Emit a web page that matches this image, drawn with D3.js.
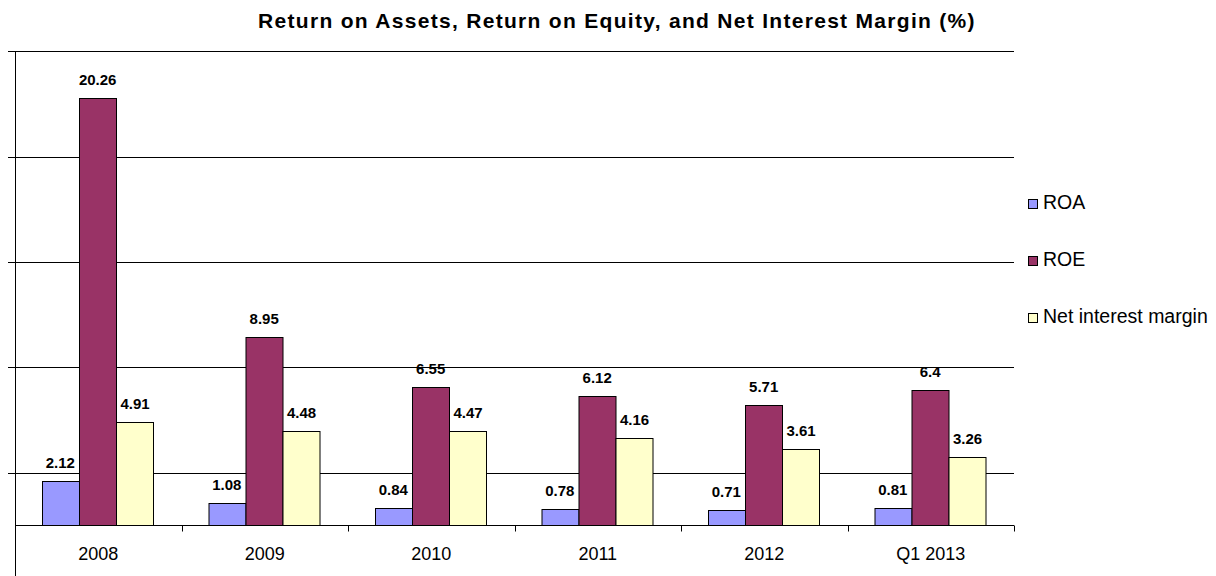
<!DOCTYPE html>
<html>
<head>
<meta charset="utf-8">
<script src="https://cdn.jsdelivr.net/npm/d3@7"></script>
<style>
  body { margin: 0; background: #fff; }
  svg { display: block; font-family: Arial, "Liberation Sans", sans-serif; }
</style>
</head>
<body>
<div id="chart"></div>
<script>
var categories = ["2008", "2009", "2010", "2011", "2012", "Q1 2013"];
var seriesNames = ["ROA", "ROE", "Net interest margin"];
var roa = [2.12, 1.08, 0.84, 0.78, 0.71, 0.81];
var roe = [20.26, 8.95, 6.55, 6.12, 5.71, 6.4];
var nim = [4.91, 4.48, 4.47, 4.16, 3.61, 3.26];
var gridValues = [2.5, 7.5, 12.5, 17.5, 22.5];
var colors = ["#9999FF", "#993366", "#FFFFCC"];

var widthPage = 1216, heightPage = 576;
var plotLeft = 15, plotRight = 1014;

var svg = d3.select("#chart").append("svg")
    .attr("width", widthPage).attr("height", heightPage);

var x = d3.scaleBand().domain(categories).range([plotLeft, plotRight]).paddingInner(0).paddingOuter(0);
var y = d3.scaleLinear().domain([-2.5, 22.5]).range([578, 51.3]);
// bars sit in the middle of each category slot
var xs = d3.scaleBand().domain(seriesNames).range([26.7, 138.7]).padding(0);

// gridlines, with small ticks left of the axis
svg.append("g").selectAll("line").data(gridValues).enter().append("line")
    .attr("x1", plotLeft - 7).attr("x2", plotRight)
    .attr("y1", d => Math.round(y(d)) + 0.5).attr("y2", d => Math.round(y(d)) + 0.5)
    .attr("stroke", "#000").attr("stroke-width", 1);

// value axis line
svg.append("line")
    .attr("x1", plotLeft + 0.5).attr("x2", plotLeft + 0.5)
    .attr("y1", Math.round(y(22.5))).attr("y2", heightPage)
    .attr("stroke", "#000");

var data = categories.map((c, i) => ({cat: c, vals: [roa[i], roe[i], nim[i]]}));

var groups = svg.append("g").selectAll("g").data(data).enter().append("g")
    .attr("transform", d => `translate(${x(d.cat)},0)`);

groups.selectAll("rect").data(d => d.vals.map((v, j) => ({name: seriesNames[j], v: v, j: j})))
    .enter().append("rect")
    .attr("x", d => Math.round(xs(d.name)) + 0.5)
    .attr("width", Math.round(xs.bandwidth()))
    .attr("y", d => Math.round(y(d.v)) + 0.5)
    .attr("height", d => Math.round(y(0)) - Math.round(y(d.v)))
    .attr("fill", d => colors[d.j])
    .attr("stroke", "#000").attr("stroke-width", 1);

groups.selectAll("text").data(d => d.vals.map((v, j) => ({name: seriesNames[j], v: v})))
    .enter().append("text")
    .attr("x", d => xs(d.name) + xs.bandwidth() / 2)
    .attr("y", d => y(d.v) - 13)
    .attr("text-anchor", "middle")
    .attr("font-size", "15px").attr("font-weight", "bold")
    .text(d => d.v);

// category axis at zero
var xg = svg.append("g").attr("transform", `translate(0,${Math.round(y(0)) + 0.5})`);
xg.append("line").attr("x1", plotLeft).attr("x2", plotRight).attr("stroke", "#000");
xg.selectAll(".tk").data(categories.concat(["_end"])).enter().append("line")
    .attr("x1", d => Math.round(d === "_end" ? plotRight : x(d)) + 0.5)
    .attr("x2", d => Math.round(d === "_end" ? plotRight : x(d)) + 0.5)
    .attr("y1", 0).attr("y2", 6).attr("stroke", "#000");
xg.selectAll(".lbl").data(categories).enter().append("text")
    .attr("x", d => x(d) + x.bandwidth() / 2)
    .attr("y", 34)
    .attr("text-anchor", "middle")
    .attr("font-size", "18px")
    .text(d => d);

// title
svg.append("text")
    .attr("x", 617).attr("y", 28)
    .attr("text-anchor", "middle")
    .attr("font-size", "21px").attr("font-weight", "bold")
    .attr("letter-spacing", "1.3px")
    .text("Return on Assets, Return on Equity, and Net Interest Margin (%)");

// legend
var legendY = [203, 260, 317];
var legend = svg.append("g").selectAll("g").data(seriesNames).enter().append("g")
    .attr("transform", (d, i) => `translate(1028,${legendY[i]})`);
legend.append("rect").attr("x", 0.5).attr("y", -3.5).attr("width", 9).attr("height", 9)
    .attr("fill", (d, i) => colors[i]).attr("stroke", "#000");
legend.append("text").attr("x", 15).attr("y", 6)
    .attr("font-size", "19.5px").text(d => d);
</script>
</body>
</html>
